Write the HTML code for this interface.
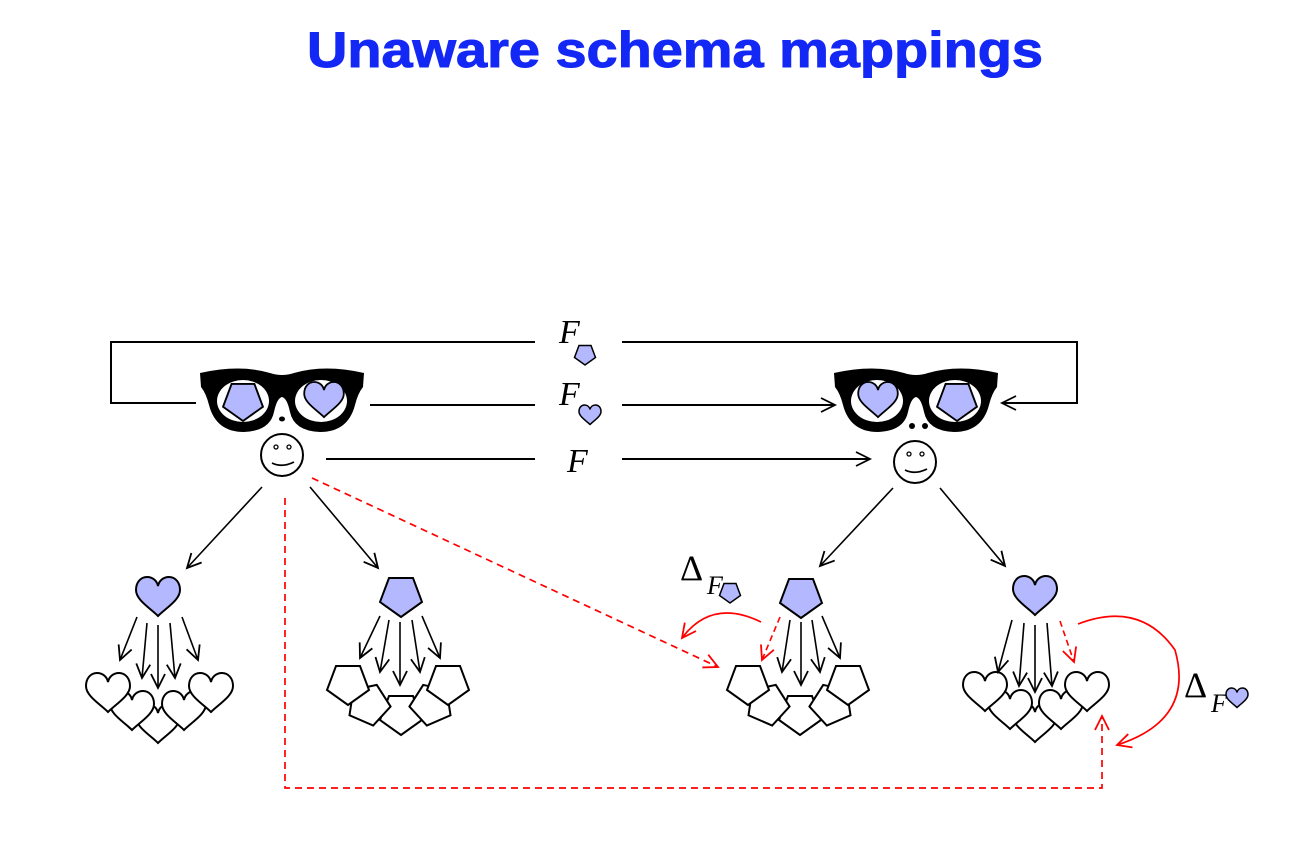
<!DOCTYPE html>
<html><head><meta charset="utf-8">
<style>
html,body{margin:0;padding:0;background:#fff;}
svg{display:block;}
</style></head>
<body>
<svg width="1308" height="852" viewBox="0 0 1308 852" xmlns="http://www.w3.org/2000/svg">
<defs>
<path id="hrt" d="M0,19 C-8,11 -22,3 -22,-7 C-22,-15 -17,-20 -11,-20 C-5,-20 -1,-16 0,-11 C1,-16 5,-20 11,-20 C17,-20 22,-15 22,-7 C22,3 8,11 0,19 Z"/>
<path id="pent" d="M-12,-19 L12,-19 L21,5 L0,20 L-21,5 Z"/>
<marker id="ab" markerWidth="18" markerHeight="18" refX="15" refY="9" orient="auto" markerUnits="userSpaceOnUse">
<path d="M1,2 L15,9 L1,16" fill="none" stroke="#000" stroke-width="1.8"/></marker>
<marker id="ar" markerWidth="18" markerHeight="18" refX="15" refY="9" orient="auto" markerUnits="userSpaceOnUse">
<path d="M1,2 L15,9 L1,16" fill="none" stroke="#f00" stroke-width="1.8"/></marker>
</defs>

<text x="675" y="67" text-anchor="middle" font-family="Liberation Sans, sans-serif" font-weight="bold" font-size="50" fill="#1428f5" stroke="#1428f5" stroke-width="1" textLength="736" lengthAdjust="spacingAndGlyphs">Unaware schema mappings</text>

<g stroke="#000" stroke-width="2" fill="none">
<polyline points="535,342 111,342 111,403 196,403"/>
<polyline points="622,342 1077,342 1077,403 1002,403" marker-end="url(#ab)"/>
<line x1="370" y1="405" x2="535" y2="405"/>
<line x1="622" y1="405" x2="835" y2="405" marker-end="url(#ab)"/>
<line x1="326" y1="459" x2="535" y2="459"/>
<line x1="622" y1="459" x2="870" y2="459" marker-end="url(#ab)"/>
</g>
<g stroke="#000" stroke-width="1.6" fill="none">
<line x1="262" y1="487" x2="187" y2="568" marker-end="url(#ab)"/>
<line x1="310" y1="487" x2="378" y2="568" marker-end="url(#ab)"/>
<line x1="893" y1="488" x2="820" y2="566" marker-end="url(#ab)"/>
<line x1="940" y1="488" x2="1005" y2="566" marker-end="url(#ab)"/>
</g>

<g font-family="Liberation Serif, serif" font-style="italic" font-size="34" fill="#000">
<text x="559" y="343">F</text>
<text x="559" y="405">F</text>
<text x="567" y="472">F</text>
</g>
<use href="#pent" transform="translate(585,355) scale(0.5)" fill="#b3b8ff" stroke="#000" stroke-width="3"/>
<use href="#hrt" transform="translate(590,415) scale(0.5)" fill="#b3b8ff" stroke="#000" stroke-width="3"/>

<g>
<path d="M200,373 Q240,364 270,373 Q282,377 294,373 Q325,364 364,373 L363,387 Q358,393 355,405 Q348,432 320,432 Q294,431 290,412 Q287,398 282,397 Q277,398 274,412 Q270,431 244,432 Q216,432 209,405 Q206,393 201,387 Z" fill="#000"/>
<ellipse cx="243" cy="401" rx="26" ry="21" fill="#fff"/>
<ellipse cx="321" cy="401" rx="26" ry="21" fill="#fff"/>
<use href="#pent" transform="translate(243,402) scale(0.95)" fill="#b3b8ff" stroke="#000" stroke-width="2"/>
<use href="#hrt" transform="translate(324,400) scale(0.9)" fill="#b3b8ff" stroke="#000" stroke-width="2"/>
<ellipse cx="282" cy="419" rx="3" ry="2.5" fill="#000"/>
<circle cx="282" cy="455" r="21" fill="none" stroke="#000" stroke-width="2"/>
<circle cx="276" cy="447" r="2" fill="none" stroke="#000" stroke-width="1.3"/>
<circle cx="289" cy="447" r="2" fill="none" stroke="#000" stroke-width="1.3"/>
<path d="M272,463 Q282,468 294,462" fill="none" stroke="#000" stroke-width="1.8"/>
</g>
<g transform="translate(634,0)">
<path d="M200,373 Q240,364 270,373 Q282,377 294,373 Q325,364 364,373 L363,387 Q358,393 355,405 Q348,432 320,432 Q294,431 290,412 Q287,398 282,397 Q277,398 274,412 Q270,431 244,432 Q216,432 209,405 Q206,393 201,387 Z" fill="#000"/>
<ellipse cx="243" cy="401" rx="26" ry="21" fill="#fff"/>
<ellipse cx="321" cy="401" rx="26" ry="21" fill="#fff"/>
<use href="#hrt" transform="translate(244,400) scale(0.9)" fill="#b3b8ff" stroke="#000" stroke-width="2"/>
<use href="#pent" transform="translate(323,402) scale(0.95)" fill="#b3b8ff" stroke="#000" stroke-width="2"/>
<circle cx="278" cy="426" r="3" fill="#000"/>
<circle cx="291" cy="426" r="3" fill="#000"/>
</g>
<circle cx="915" cy="462" r="21" fill="none" stroke="#000" stroke-width="2"/>
<circle cx="909" cy="454" r="2" fill="none" stroke="#000" stroke-width="1.3"/>
<circle cx="922" cy="454" r="2" fill="none" stroke="#000" stroke-width="1.3"/>
<path d="M905,470 Q915,475 927,469" fill="none" stroke="#000" stroke-width="1.8"/>

<use href="#hrt" transform="translate(158,597)" fill="#b3b8ff" stroke="#000" stroke-width="2"/>
<g fill="#fff" stroke="#000" stroke-width="2">
<use href="#hrt" transform="translate(158,724)"/>
<use href="#hrt" transform="translate(132,711)"/>
<use href="#hrt" transform="translate(184,711)"/>
<use href="#hrt" transform="translate(108,693)"/>
<use href="#hrt" transform="translate(211,693)"/>
</g>
<g stroke="#000" stroke-width="1.6" fill="none">
<line x1="137" y1="617" x2="120" y2="660" marker-end="url(#ab)"/>
<line x1="147" y1="623" x2="142" y2="678" marker-end="url(#ab)"/>
<line x1="158" y1="625" x2="158" y2="688" marker-end="url(#ab)"/>
<line x1="170" y1="623" x2="175" y2="678" marker-end="url(#ab)"/>
<line x1="182" y1="617" x2="198" y2="660" marker-end="url(#ab)"/>
</g>

<use href="#pent" transform="translate(401,597)" fill="#b3b8ff" stroke="#000" stroke-width="2"/>
<g fill="#fff" stroke="#000" stroke-width="2">
<use href="#pent" transform="translate(401,715)"/>
<use href="#pent" transform="translate(369,706) rotate(-12)"/>
<use href="#pent" transform="translate(431,706) rotate(12)"/>
<use href="#pent" transform="translate(348,685)"/>
<use href="#pent" transform="translate(448,685)"/>
</g>
<g stroke="#000" stroke-width="1.6" fill="none">
<line x1="380" y1="616" x2="360" y2="658" marker-end="url(#ab)"/>
<line x1="389" y1="620" x2="380" y2="672" marker-end="url(#ab)"/>
<line x1="400" y1="622" x2="400" y2="685" marker-end="url(#ab)"/>
<line x1="412" y1="620" x2="420" y2="672" marker-end="url(#ab)"/>
<line x1="422" y1="616" x2="440" y2="658" marker-end="url(#ab)"/>
</g>

<use href="#pent" transform="translate(801,598)" fill="#b3b8ff" stroke="#000" stroke-width="2"/>
<g fill="#fff" stroke="#000" stroke-width="2">
<use href="#pent" transform="translate(800,715)"/>
<use href="#pent" transform="translate(768,706) rotate(-12)"/>
<use href="#pent" transform="translate(831,706) rotate(12)"/>
<use href="#pent" transform="translate(748,685)"/>
<use href="#pent" transform="translate(848,685)"/>
</g>
<g stroke="#000" stroke-width="1.6" fill="none">
<line x1="790" y1="620" x2="782" y2="672" marker-end="url(#ab)"/>
<line x1="801" y1="622" x2="801" y2="685" marker-end="url(#ab)"/>
<line x1="812" y1="620" x2="820" y2="672" marker-end="url(#ab)"/>
<line x1="822" y1="616" x2="840" y2="658" marker-end="url(#ab)"/>
</g>
<line x1="780" y1="617" x2="762" y2="660" stroke="#f00" stroke-width="1.6" stroke-dasharray="6,4" marker-end="url(#ar)"/>

<use href="#hrt" transform="translate(1035,596)" fill="#b3b8ff" stroke="#000" stroke-width="2"/>
<g fill="#fff" stroke="#000" stroke-width="2">
<use href="#hrt" transform="translate(1035,723)"/>
<use href="#hrt" transform="translate(1010,710)"/>
<use href="#hrt" transform="translate(1061,710)"/>
<use href="#hrt" transform="translate(985,692)"/>
<use href="#hrt" transform="translate(1087,692)"/>
</g>
<g stroke="#000" stroke-width="1.6" fill="none">
<line x1="1012" y1="620" x2="998" y2="672" marker-end="url(#ab)"/>
<line x1="1024" y1="623" x2="1019" y2="686" marker-end="url(#ab)"/>
<line x1="1035" y1="625" x2="1035" y2="692" marker-end="url(#ab)"/>
<line x1="1047" y1="623" x2="1052" y2="686" marker-end="url(#ab)"/>
</g>
<line x1="1060" y1="621" x2="1074" y2="662" stroke="#f00" stroke-width="1.6" stroke-dasharray="6,4" marker-end="url(#ar)"/>

<g stroke="#f00" stroke-width="1.7" fill="none">
<line x1="312" y1="478" x2="718" y2="667" stroke-dasharray="7,5" marker-end="url(#ar)"/>
<polyline points="285,498 285,788 1102,788 1102,716" stroke-dasharray="7,5" marker-end="url(#ar)"/>
<path d="M761,622 Q712,598 682,638" marker-end="url(#ar)"/>
<path d="M1078,624 Q1140,600 1175,650 Q1195,720 1117,745" marker-end="url(#ar)"/>
</g>

<g font-family="Liberation Serif, serif" fill="#000">
<text x="680" y="580" font-size="36">Δ</text>
<text x="707" y="594" font-size="26" font-style="italic">F</text>
<text x="1184" y="697" font-size="36">Δ</text>
<text x="1211" y="712" font-size="26" font-style="italic">F</text>
</g>
<use href="#pent" transform="translate(730,593) scale(0.5)" fill="#b3b8ff" stroke="#000" stroke-width="3"/>
<use href="#hrt" transform="translate(1237,698) scale(0.5)" fill="#b3b8ff" stroke="#000" stroke-width="3"/>
</svg>
</body></html>
